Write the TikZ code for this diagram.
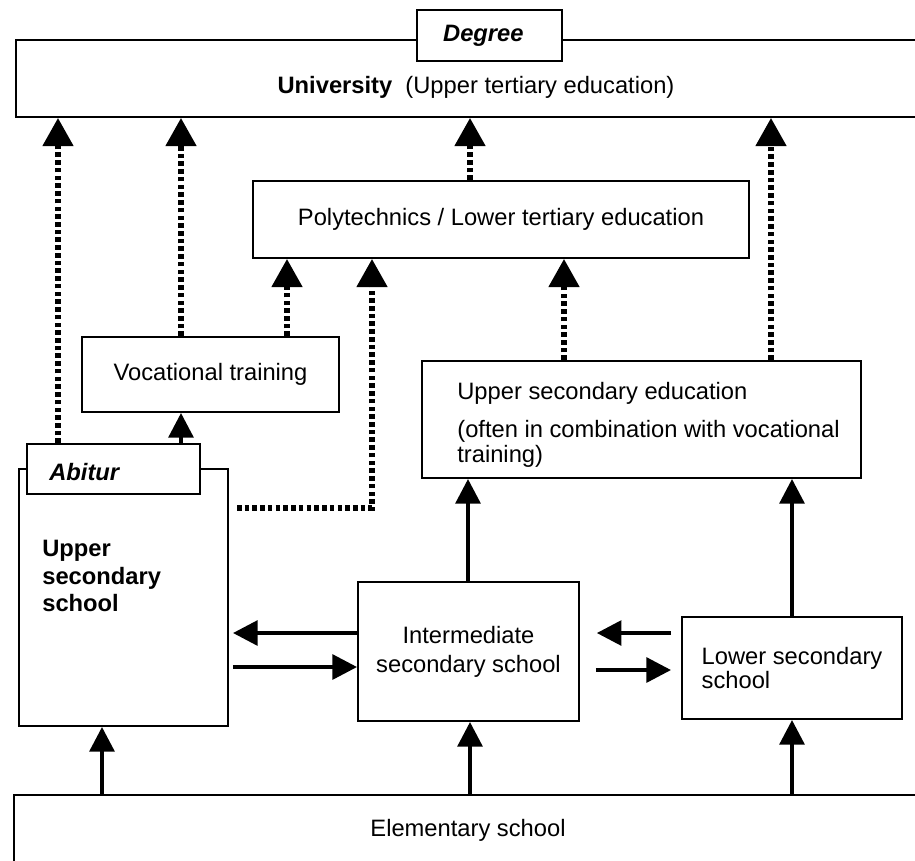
\documentclass[tikz,border=0pt]{standalone}
\usepackage{fontspec}
\setmainfont{Liberation Sans}
\usetikzlibrary{arrows.meta}

\begin{document}
\begin{tikzpicture}[x=0.02cm,y=-0.02cm,
      font=\fontsize{13.5}{15.5}\selectfont,
      box/.style={draw,line width=1.1pt,fill=white,inner sep=0pt},
      txt/.style={inner sep=0pt},
      solidarr/.style={line width=2.3pt,-{Triangle[width=14pt,length=14pt]}},
      dotarr/.style={line width=3pt,dash pattern=on 2.6pt off 1.8pt,-{Triangle[width=17pt,length=16pt]}}]
      \useasboundingbox (0,0) rectangle (915,860);

      \node[box,minimum width=18.48cm,minimum height=1.54cm] (univ) at (478,78.5) {};
      \node[box,minimum width=2.9cm,minimum height=1.02cm,font=\fontsize{13.5}{15.5}\selectfont\bfseries\itshape] (degree) at (489.5,35.5) {\hspace*{-7pt}Degree};
      \node[txt] (univtext) at (476,87) {\textbf{University}~~(Upper tertiary education)};

      \node[box,minimum width=9.92cm,minimum height=1.54cm] (poly) at (501,219.5) {Polytechnics / Lower tertiary education};
      \node[box,minimum width=5.14cm,minimum height=1.5cm] (voc) at (210.5,374.5) {Vocational training};

      \node[box,minimum width=8.78cm,minimum height=2.34cm] (use) at (641.5,419.5) {};
      \node[txt,anchor=west,align=left] (usetext) at (457,425) {Upper secondary education\\[6pt](often in combination with vocational\\[-1.5pt]training)};

      \node[box,minimum width=4.18cm,minimum height=5.14cm] (uss) at (123.5,597.5) {};
      \node[txt,anchor=west,align=left,font=\fontsize{13.5}{15.5}\selectfont\bfseries] (usstext) at (42,576) {Upper\\secondary\\school};
      \node[box,minimum width=3.46cm,minimum height=1cm] (abitur) at (113.5,469) {};
      \node[txt,anchor=west,font=\fontsize{13.5}{15.5}\selectfont\bfseries\itshape] (abiturtext) at (49,472) {Abitur};

      \node[box,minimum width=4.42cm,minimum height=2.78cm,align=center] (int) at (468.5,651.5) {Intermediate\\[1pt]secondary school};
      \node[box,minimum width=4.4cm,minimum height=2.04cm,align=left] (lower) at (792,668) {Lower secondary\\[-1.5pt]school};

      \node[box,minimum width=18.52cm,minimum height=1.7cm] (elem) at (477,837.5) {};
      \node[txt] (elemtext) at (468,830) {Elementary school};

      \draw[solidarr] (elem.north -| 102,0) -- (uss.south -| 102,0);
      \draw[solidarr] (elem.north -| 470,0) -- (int.south -| 470,0);
      \draw[solidarr] (elem.north -| 792,0) -- (lower.south -| 792,0);
      \draw[solidarr] (int.north -| 468,0) -- (use.south -| 468,0);
      \draw[solidarr] (lower.north -| 792,0) -- (use.south -| 792,0);
      \draw[solidarr] (abitur.north -| 181,0) -- (voc.south -| 181,0);
      \draw[solidarr,shorten >=2.3pt] (int.west |- 0,633) -- (uss.east |- 0,633);
      \draw[solidarr,shorten <=2.3pt] (uss.east |- 0,667) -- (int.west |- 0,667);
      \draw[solidarr,shorten <=5.7pt,shorten >=9.6pt] (lower.west |- 0,633) -- (int.east |- 0,633);
      \draw[solidarr,shorten <=9pt,shorten >=5.7pt] (int.east |- 0,670) -- (lower.west |- 0,670);

      \coordinate (ussout) at (237,508);
      \draw[dotarr] (abitur.north -| 58,0) -- (univ.south -| 58,0);
      \draw[dotarr] (voc.north -| 181,0) -- (univ.south -| 181,0);
      \draw[dotarr] (voc.north -| 287,0) -- (poly.south -| 287,0);
      \draw[dotarr] (ussout) -| (poly.south -| 372,0);
      \draw[dotarr] (use.north -| 564,0) -- (poly.south -| 564,0);
      \draw[dotarr] (use.north -| 771,0) -- (univ.south -| 771,0);
      \draw[dotarr] (poly.north -| 470,0) -- (univ.south -| 470,0);
   \end{tikzpicture}
\end{document}
